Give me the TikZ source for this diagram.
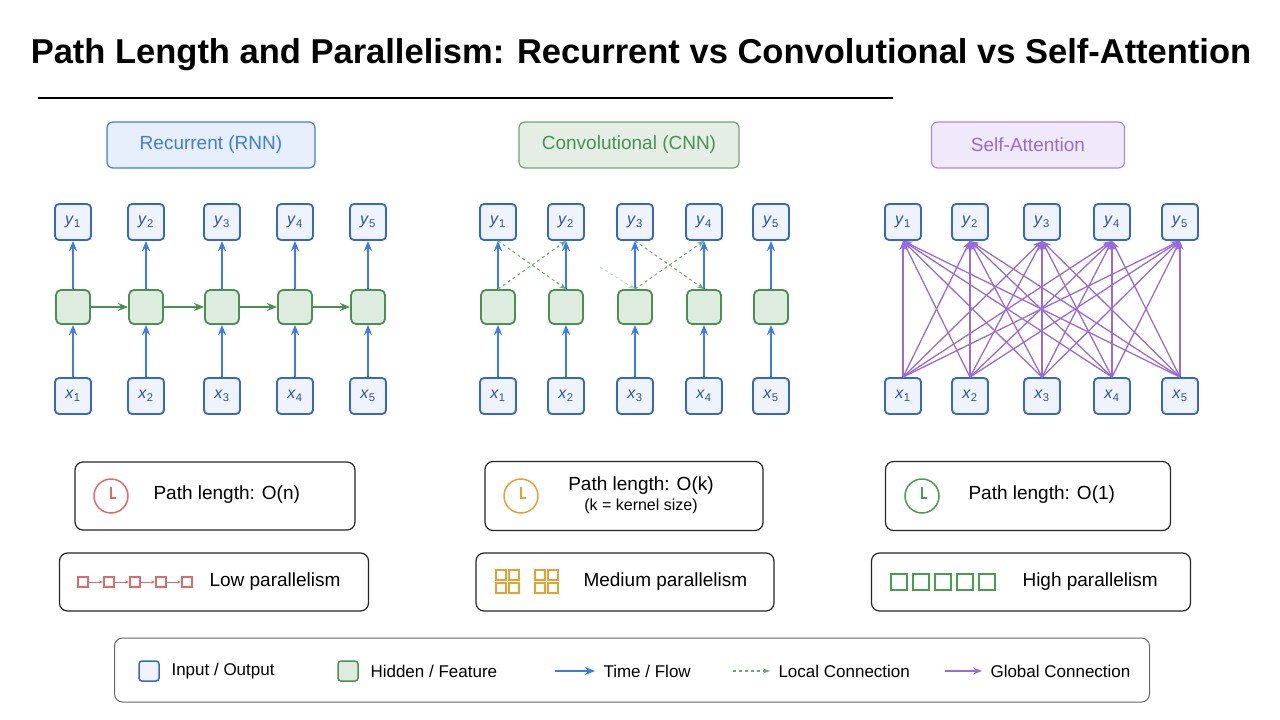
\documentclass[tikz,border=0pt]{standalone}
\usepackage{fontspec}
\setmainfont{Liberation Sans}
\usetikzlibrary{arrows.meta, positioning}
\definecolor{ioblue}{HTML}{3468C8}
\definecolor{flowblue}{HTML}{3B7BEA}
\definecolor{hidgreen}{HTML}{4A9150}
\definecolor{purp}{HTML}{9A6AD6}
\definecolor{clkred}{HTML}{E06A6A}
\definecolor{clkorange}{HTML}{E8A030}
\definecolor{clkgreen}{HTML}{45A04B}
\newcommand{\vsub}[2]{\textit{#1}\textsubscript{#2}}
\tikzset{
  io/.style={rectangle, rounded corners=4pt, minimum width=36pt, minimum height=36pt, draw=ioblue, fill=ioblue!8, line width=1.8pt, text=ioblue!80!black, font=\fontsize{16}{18}\selectfont},
  hidden/.style={rectangle, rounded corners=5pt, minimum width=34pt, minimum height=34pt, draw=hidgreen, fill=hidgreen!18, line width=1.8pt},
  header/.style={rectangle, rounded corners=6pt, minimum height=46pt, line width=1.2pt, font=\fontsize{19}{22}\selectfont},
  infobox/.style={rectangle, rounded corners=8pt, draw=black!85, line width=1.2pt, fill=white},
  flow/.style={-{Stealth[length=10pt, width=8pt]}, flowblue, line width=1.8pt},
  rnnflow/.style={-{Stealth[length=10pt, width=8pt]}, hidgreen, line width=1.8pt},
  local/.style={-{Stealth[length=7pt]}, hidgreen!80, dashed, line width=1pt},
  global/.style={-{Stealth[length=9pt, width=7pt]}, purp, line width=1.3pt},
  txt/.style={font=\fontsize{19}{22}\selectfont}
}
\begin{document}
\begin{tikzpicture}[x=1pt, y=-1pt]
    \useasboundingbox (0,0) rectangle (1280,720);
    % Title
    \node[font=\fontsize{34.5}{40}\selectfont\bfseries] (title) at (641,55) {Path Length and Parallelism: Recurrent vs Convolutional vs Self-Attention};
    \draw[line width=1.8pt] (38,98) -- (893,98);

    % Headers
    \node[header, draw=flowblue, fill=flowblue!12, text=flowblue, minimum width=208pt] (hrnn) at (211,145) {Recurrent (RNN)};
    \node[header, draw=hidgreen!80, fill=hidgreen!15, text=hidgreen, minimum width=220pt] (hcnn) at (629,145) {Convolutional (CNN)};
    \node[header, draw=purp!80, fill=purp!15, text=purp, minimum width=193pt] (hsa) at (1028,145) {Self-Attention};

    % Recurrent
    \foreach \i/\x in {1/73,2/146,3/222,4/295,5/368} {
        \node[io] (ry\i) at (\x,222) {\vsub{y}{\i}};
        \node[hidden] (rh\i) at (\x,307) {};
        \node[io] (rx\i) at (\x,396) {\vsub{x}{\i}};
        \draw[flow] (rx\i) -- (rh\i);
        \draw[flow] (rh\i) -- (ry\i);
    }
    \foreach \i/\j in {1/2,2/3,3/4,4/5}
        \draw[rnnflow] (rh\i) -- (rh\j);

    % Convolutional
    \foreach \i/\x in {1/498,2/566,3/635,4/704,5/771} {
        \node[io] (cy\i) at (\x,222) {\vsub{y}{\i}};
        \node[hidden] (ch\i) at (\x,307) {};
        \node[io] (cx\i) at (\x,396) {\vsub{x}{\i}};
        \draw[flow] (cx\i) -- (ch\i);
        \draw[flow] (ch\i) -- (cy\i);
    }
    \draw[local] (ch1.north) -- (cy2.south);
    \draw[local] (cy1.south) -- (ch2.north);
    \draw[local] (ch3.north) -- (cy4.south);
    \draw[local] (cy3.south) -- (ch4.north);
    \draw[local, draw=hidgreen!35] (600,267) -- (ch3.north);

    % Self-attention
    \foreach \i/\x in {1/903,2/970,3/1042,4/1112,5/1180} {
        \node[io] (sy\i) at (\x,222) {\vsub{y}{\i}};
        \node[io] (sx\i) at (\x,396) {\vsub{x}{\i}};
    }
    \foreach \i in {1,...,5}
        \foreach \j in {1,...,5}
            \draw[global] (sx\i.north) -- (sy\j.south);

    % Path length boxes
    \node[infobox, minimum width=280pt, minimum height=68pt] (prnn) at (215,496) {};
    \draw[clkred, line width=1.5pt] (111,496) circle (17pt);
    \draw[clkred, line width=1.5pt] (111,487) -- (111,498) -- (116,498);
    \node[txt, anchor=west] (prnnt) at (150,495) {Path length: O(n)};

    \node[infobox, minimum width=278pt, minimum height=69pt] (pcnn) at (624,496) {};
    \draw[clkorange, line width=1.5pt] (521,496) circle (17pt);
    \draw[clkorange, line width=1.5pt] (521,487) -- (521,498) -- (526,498);
    \node[txt, align=center] (pcnnt) at (641,495) {Path length: O(k)\\[-2pt]{\fontsize{16}{18}\selectfont (k = kernel size)}};

    \node[infobox, minimum width=285pt, minimum height=69pt] (psa) at (1028,496) {};
    \draw[clkgreen, line width=1.5pt] (922,496) circle (17pt);
    \draw[clkgreen, line width=1.5pt] (922,487) -- (922,498) -- (927,498);
    \node[txt, anchor=west] (psat) at (965,495) {Path length: O(1)};

    % Parallelism boxes
    \node[infobox, minimum width=309pt, minimum height=58pt] (lrnn) at (214,582) {};
    \foreach \k in {0,...,4} {
        \draw[clkred, line width=1.2pt] (78+\k*26,577) rectangle ++(10,10);
    }
    \foreach \k in {0,...,3}
        \draw[clkred, -{Stealth[length=4pt]}, line width=1pt] (89+\k*26,582) -- ++(14,0);
    \node[txt, anchor=west] (lrnnt) at (206,582) {Low parallelism};

    \node[infobox, minimum width=298pt, minimum height=58pt] (lcnn) at (625,582) {};
    \foreach \gx in {496,535}
        \foreach \dx/\dy in {0/0,13/0,0/13,13/13}
            \draw[clkorange, line width=1.2pt] (\gx+\dx,570+\dy) rectangle ++(10,10);
    \node[txt, anchor=west] (lcnnt) at (580,582) {Medium parallelism};

    \node[infobox, minimum width=319pt, minimum height=58pt] (lsa) at (1031,582) {};
    \foreach \k in {0,...,4}
        \draw[clkgreen, line width=1.6pt] (891+\k*22,574) rectangle ++(16,16);
    \node[txt, anchor=west] (lsat) at (1019,582) {High parallelism};

    % Legend
    \node[rectangle, rounded corners=8pt, draw=black!60, line width=1pt, minimum width=1035pt, minimum height=64pt] (legend) at (632,670) {};
    \node[rectangle, rounded corners=3pt, draw=ioblue, fill=ioblue!8, line width=1.5pt, minimum width=20pt, minimum height=20pt] (lgio) at (149,671) {};
    \node[txt, anchor=west, font=\fontsize{17}{20}\selectfont] (lgiot) at (168,671) {Input / Output};
    \node[rectangle, rounded corners=3pt, draw=hidgreen, fill=hidgreen!18, line width=1.5pt, minimum width=20pt, minimum height=20pt] (lghid) at (348,671) {};
    \node[txt, anchor=west, font=\fontsize{17}{20}\selectfont] (lghidt) at (367,671) {Hidden / Feature};
    \coordinate (lgf1) at (555,671);
    \coordinate (lgf2) at (595,671);
    \draw[flow] (lgf1) -- (lgf2);
    \node[txt, anchor=west, font=\fontsize{17}{20}\selectfont] (lgft) at (600,671) {Time / Flow};
    \coordinate (lgl1) at (733,671);
    \coordinate (lgl2) at (770,671);
    \draw[local, line width=1.5pt] (lgl1) -- (lgl2);
    \node[txt, anchor=west, font=\fontsize{17}{20}\selectfont] (lglt) at (775,671) {Local Connection};
    \coordinate (lgg1) at (945,671);
    \coordinate (lgg2) at (982,671);
    \draw[global] (lgg1) -- (lgg2);
    \node[txt, anchor=west, font=\fontsize{17}{20}\selectfont] (lggt) at (987,671) {Global Connection};
\end{tikzpicture}
\end{document}
